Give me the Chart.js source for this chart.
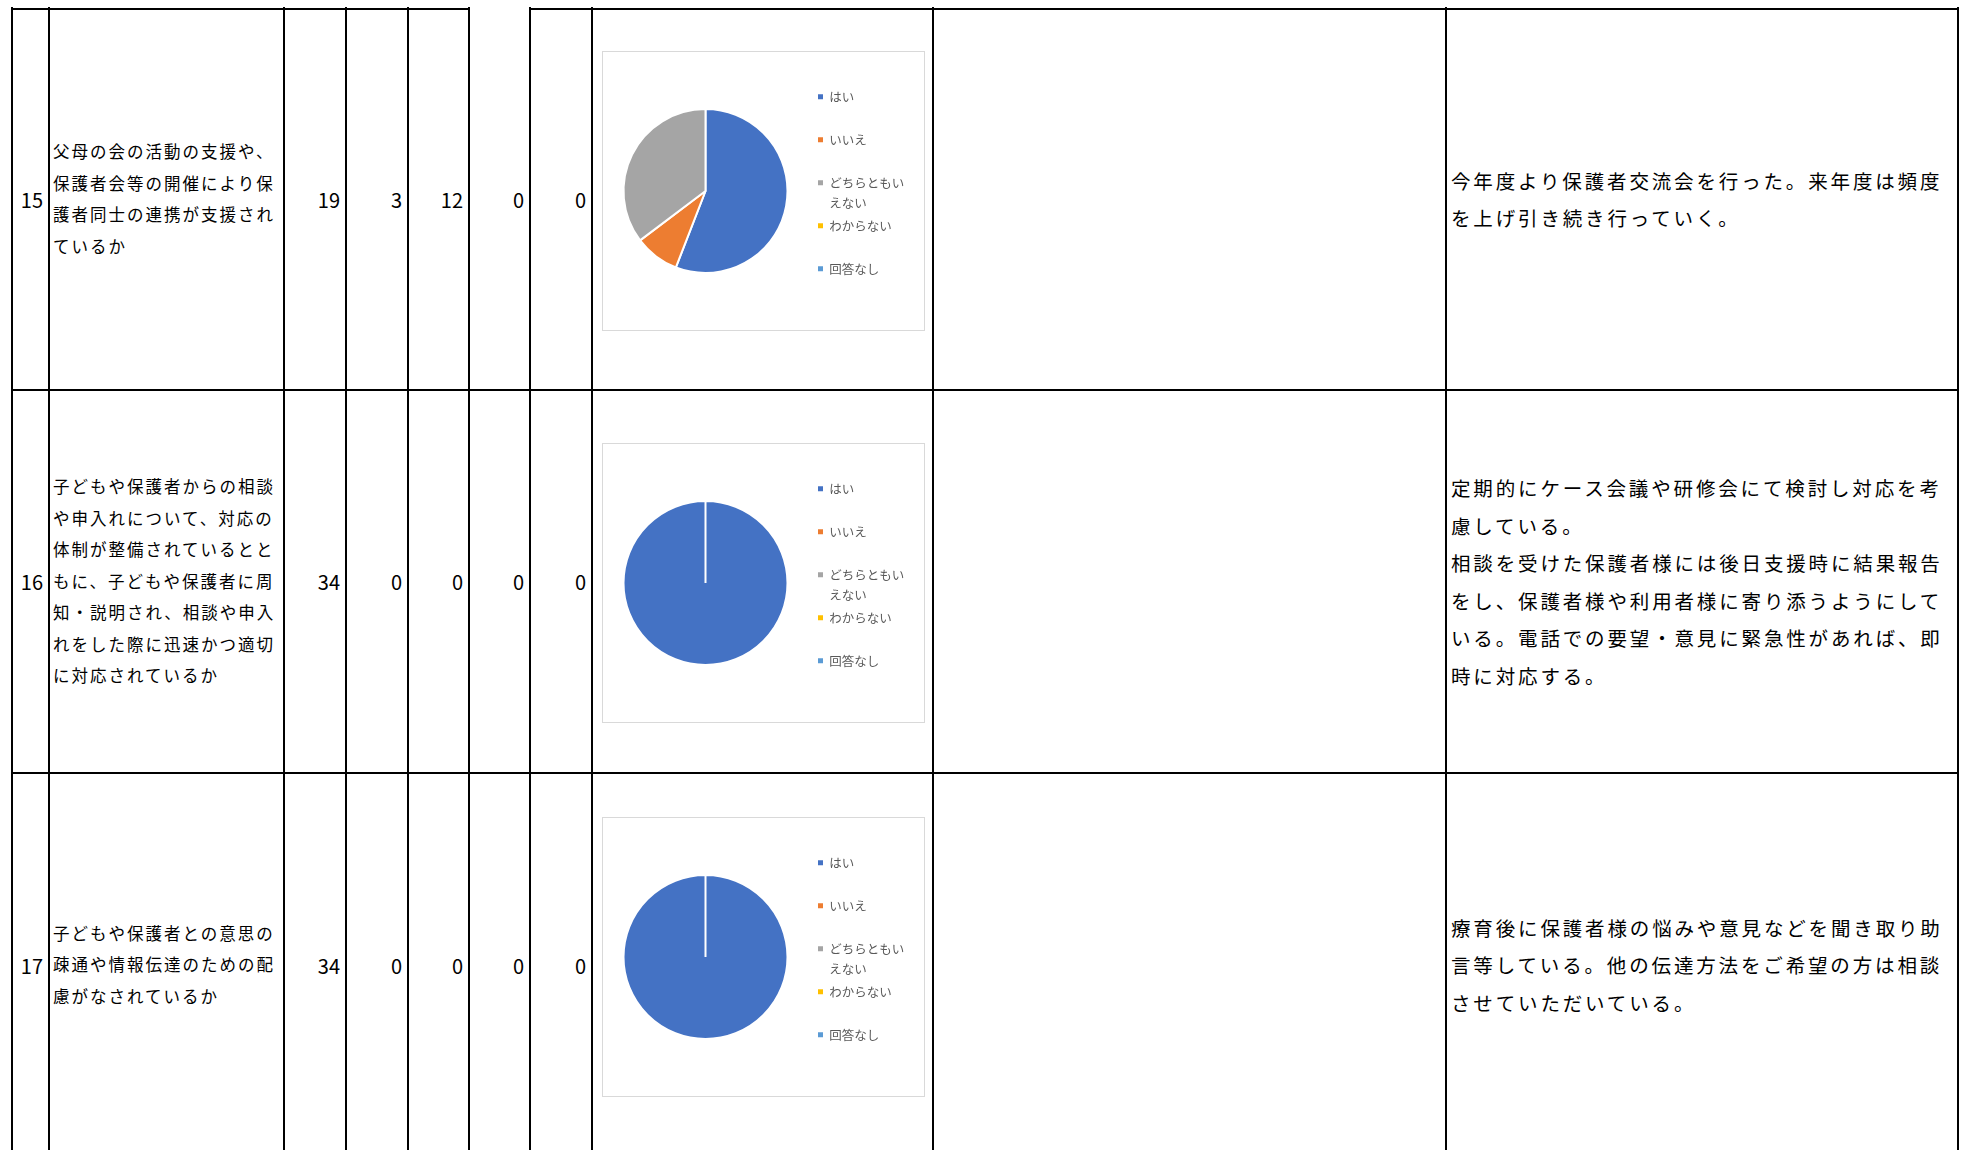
<!DOCTYPE html>
<html lang="ja">
<head>
<meta charset="utf-8">
<script src="https://cdn.jsdelivr.net/npm/chart.js@4/dist/chart.umd.min.js"></script>
<style>
html,body{margin:0;padding:0;background:#fff;}
body{width:1967px;height:1150px;overflow:hidden;position:relative;font-family:'Noto Sans CJK JP','Noto Sans',sans-serif;color:#000;}
.ln{position:absolute;background:#000;}
.cell{position:absolute;display:flex;align-items:center;box-sizing:border-box;}
.q{font-size:16.5px;letter-spacing:2px;line-height:31.5px;white-space:nowrap;padding-left:3px;}
.c{font-size:19.5px;letter-spacing:2.85px;line-height:37.5px;white-space:nowrap;padding-left:4px;}
.n{font-size:20px;justify-content:flex-end;padding-right:5px;}
.box{position:absolute;border:1px solid #d9d9d9;box-sizing:border-box;background:#fff;}
canvas{position:absolute;}
</style>
</head>
<body>
<script>
// ---- data ----
const categories = ['はい', 'いいえ', 'どちらともいえない', 'わからない', '回答なし'];
const questionNumbers = [15, 16, 17];
const countsQ15 = [19, 3, 12, 0, 0];
const countsQ16 = [34, 0, 0, 0, 0];
const countsQ17 = [34, 0, 0, 0, 0];
const questionQ15 = ['父母の会の活動の支援や、', '保護者会等の開催により保', '護者同士の連携が支援され', 'ているか'];
const questionQ16 = ['子どもや保護者からの相談', 'や申入れについて、対応の', '体制が整備されているとと', 'もに、子どもや保護者に周', '知・説明され、相談や申入', 'れをした際に迅速かつ適切', 'に対応されているか'];
const questionQ17 = ['子どもや保護者との意思の', '疎通や情報伝達のための配', '慮がなされているか'];
const commentQ15 = ['今年度より保護者交流会を行った。来年度は頻度', 'を上げ引き続き行っていく。'];
const commentQ16 = ['定期的にケース会議や研修会にて検討し対応を考', '慮している。', '相談を受けた保護者様には後日支援時に結果報告', 'をし、保護者様や利用者様に寄り添うようにして', 'いる。電話での要望・意見に緊急性があれば、即', '時に対応する。'];
const commentQ17 = ['療育後に保護者様の悩みや意見などを聞き取り助', '言等している。他の伝達方法をご希望の方は相談', 'させていただいている。'];
const sliceColors = ['#4472C4', '#ED7D31', '#A5A5A5', '#FFC000', '#5B9BD5'];

const rowsData = [
  {num: questionNumbers[0], q: questionQ15, counts: countsQ15, comment: commentQ15},
  {num: questionNumbers[1], q: questionQ16, counts: countsQ16, comment: commentQ16},
  {num: questionNumbers[2], q: questionQ17, counts: countsQ17, comment: commentQ17}
];

// ---- layout ----
const vLines = [12, 49, 284, 346, 408, 469, 530, 592, 933, 1446, 1958];
const rowTop = [9.5, 391, 774];
const rowBottom = [389, 772, 1156];
const pieBoxTop = [51, 443, 817];

function addEl(cls, css, html) {
  const d = document.createElement('div');
  d.className = cls;
  Object.assign(d.style, css);
  if (html !== undefined) d.innerHTML = html;
  document.body.appendChild(d);
  return d;
}
// lines
addEl('ln', {left: '11px', top: '7.5px', width: '459px', height: '2px'});
addEl('ln', {left: '529px', top: '7.5px', width: '1430px', height: '2px'});
addEl('ln', {left: '11px', top: '389px', width: '1948px', height: '2px'});
addEl('ln', {left: '11px', top: '772px', width: '1948px', height: '2px'});
vLines.forEach(x => addEl('ln', {left: (x - 1) + 'px', top: '7px', width: '2px', height: '1143px'}));

function esc(s){return s.replace(/&/g,'&amp;').replace(/</g,'&lt;');}

rowsData.forEach((r, i) => {
  const t = rowTop[i], h = rowBottom[i] - rowTop[i];
  addEl('cell n', {left: '13px', top: t + 'px', width: '35px', height: h + 'px'}, String(r.num));
  addEl('cell q', {left: '50px', top: t + 'px', width: '233px', height: h + 'px'}, '<div>' + r.q.map(esc).join('<br>') + '</div>');
  for (let k = 0; k < 5; k++) {
    const l = vLines[2 + k] + 1, rr = vLines[3 + k] - 1;
    addEl('cell n', {left: l + 'px', top: t + 'px', width: (rr - l) + 'px', height: h + 'px'}, String(r.counts[k]));
  }
  addEl('cell c', {left: '1447px', top: t + 'px', width: '510px', height: h + 'px'}, '<div>' + r.comment.map(esc).join('<br>') + '</div>');

  // pie chart box
  const bt = pieBoxTop[i];
  addEl('box', {left: '602px', top: bt + 'px', width: '323px', height: '280px'});
  const cv = document.createElement('canvas');
  cv.width = 330; cv.height = 278;
  cv.style.left = '595px'; cv.style.top = (bt + 1) + 'px';
  cv.style.width = '330px'; cv.style.height = '278px';
  document.body.appendChild(cv);

  new Chart(cv, {
    type: 'pie',
    data: {
      labels: categories,
      datasets: [{
        data: r.counts,
        backgroundColor: sliceColors,
        borderColor: '#ffffff',
        borderWidth: 2,
        radius: 82,
        hoverOffset: 0
      }]
    },
    options: {
      responsive: false,
      animation: false,
      events: [],
      layout: {padding: {left: 0, right: 17, top: 36.5, bottom: 36.5}},
      plugins: {
        tooltip: {enabled: false},
        title: {display: false},
        legend: {
          position: 'right',
          align: 'start',
          maxWidth: 92,
          labels: {
            boxWidth: 5,
            boxHeight: 5,
            padding: 2,
            color: '#595959',
            font: {family: "'Noto Sans CJK JP','Noto Sans',sans-serif", size: 12.5, lineHeight: 1.64},
            generateLabels: (chart) => {
              const ds = chart.data.datasets[0];
              const n = chart.data.labels.length;
              return chart.data.labels.map((lab, j) => {
                let text;
                if (j === n - 1) text = lab;
                else text = lab.length > 6 ? [lab.slice(0, 6), lab.slice(6)] : [lab, ''];
                return {
                  text: text,
                  fillStyle: ds.backgroundColor[j],
                  strokeStyle: ds.backgroundColor[j],
                  lineWidth: 0,
                  fontColor: '#595959',
                  hidden: false,
                  index: j
                };
              });
            }
          }
        }
      }
    }
  });
});
</script>
</body>
</html>
